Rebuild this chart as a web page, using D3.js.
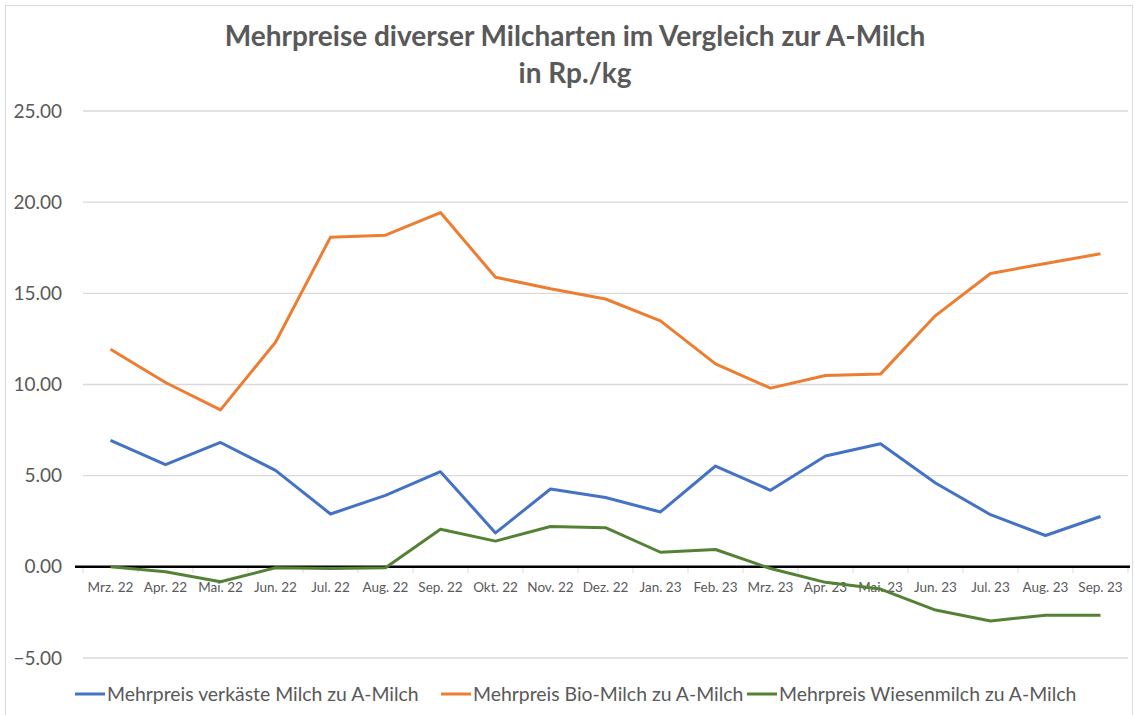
<!DOCTYPE html>
<html>
<head>
<meta charset="utf-8">
<script src="https://cdn.jsdelivr.net/npm/d3@7"></script>
<style>
  body { margin:0; background:#fff; }
  text { font-family: Lato, "Open Sans", sans-serif; }
</style>
</head>
<body>
<div id="plot"></div>
<script>
var months = ['Mrz. 22','Apr. 22','Mai. 22','Jun. 22','Jul. 22','Aug. 22','Sep. 22','Okt. 22','Nov. 22','Dez. 22',
	'Jan. 23','Feb. 23','Mrz. 23','Apr. 23','Mai. 23','Jun. 23','Jul. 23','Aug. 23','Sep. 23'];
var verkaeste = [6.93,5.60,6.82,5.29,2.90,3.92,5.22,1.86,4.27,3.80,3.01,5.53,4.20,6.08,6.75,4.60,2.86,1.72,2.76];
var bio = [11.93,10.11,8.61,12.32,18.08,18.19,19.43,15.88,15.25,14.69,13.49,11.13,9.80,10.49,10.57,13.78,16.09,16.64,17.17];
var wiesen = [0,-0.27,-0.82,-0.05,-0.09,-0.05,2.06,1.41,2.21,2.15,0.80,0.95,-0.09,-0.85,-1.22,-2.37,-2.97,-2.65,-2.65];
var yTicks = [-5,0,5,10,15,20,25];
var seriesNames = ['Mehrpreis verkäste Milch zu A-Milch','Mehrpreis Bio-Milch zu A-Milch','Mehrpreis Wiesenmilch zu A-Milch'];
var colors = ['#4472C4','#ED7D31','#548235'];

var W = 1135, H = 715;
var m = {t:111,r:7,b:57,l:83};

var svg = d3.select('#plot').append('svg')
	.attr('width',W)
	.attr('height',H);

// chart border
svg.append('rect')
	.attr('x',5.5).attr('y',5.5)
	.attr('width',W-8).attr('height',H)
	.attr('fill','none').attr('stroke','#d9d9d9');

// title
var title = svg.append('text')
	.attr('text-anchor','middle')
	.attr('fill','#595959')
	.style('font-size','28px')
	.style('font-weight','bold');
title.append('tspan').attr('x',575).attr('y',46).text('Mehrpreise diverser Milcharten im Vergleich zur A-Milch');
title.append('tspan').attr('x',575).attr('y',83).text('in Rp./kg');

var x = d3.scaleBand().domain(months).range([m.l,W-m.r]);
var y = d3.scaleLinear().domain([-5,25]).range([658,111]);

// gridlines + y labels
svg.append('g').selectAll('line').data(yTicks).join('line')
	.attr('x1',m.l).attr('x2',W-m.r)
	.attr('y1',function(d){return y(d);}).attr('y2',function(d){return y(d);})
	.attr('stroke','#d9d9d9').attr('stroke-width',1.3);

svg.append('g').selectAll('text').data(yTicks).join('text')
	.attr('x',62).attr('y',function(d){return y(d);})
	.attr('dy','0.35em')
	.attr('text-anchor','end')
	.attr('fill','#595959')
	.style('font-size','19px')
	.text(function(d){return d3.format('.2f')(d);});

// x axis at zero
var xAxis = svg.append('g').attr('transform','translate(0,'+y(0)+')');
xAxis.selectAll('line.tick').data(months.concat(['end'])).join('line')
	.attr('class','tick')
	.attr('x1',function(d,i){return m.l + i*x.bandwidth();})
	.attr('x2',function(d,i){return m.l + i*x.bandwidth();})
	.attr('y1',0).attr('y2',6)
	.attr('stroke','#d9d9d9');
xAxis.selectAll('text').data(months).join('text')
	.attr('x',function(d){return x(d)+x.bandwidth()/2;})
	.attr('y',25)
	.attr('text-anchor','middle')
	.attr('fill','#595959')
	.style('font-size','13.5px')
	.text(function(d){return d;});

// lines
var line = d3.line()
	.x(function(d,i){return x(months[i])+x.bandwidth()/2;})
	.y(function(d){return y(d);});

// zero line
xAxis.append('line')
	.attr('x1',m.l-8).attr('x2',W-m.r+2)
	.attr('y1',0).attr('y2',0)
	.attr('stroke','#000').attr('stroke-width',2.5);

[verkaeste,bio,wiesen].forEach(function(s,k){
	svg.append('path')
		.datum(s)
		.attr('d',line)
		.attr('fill','none')
		.attr('stroke',colors[k])
		.attr('stroke-width',3)
		.attr('stroke-linejoin','round');
});

// legend
var legX = [75,441,747];
var leg = svg.append('g').selectAll('g').data(seriesNames).join('g')
	.attr('transform',function(d,i){return 'translate('+legX[i]+',694)';});
leg.append('line')
	.attr('x1',0).attr('x2',30)
	.attr('stroke',function(d,i){return colors[i];})
	.attr('stroke-width',3);
leg.append('text')
	.attr('x',32).attr('dy','0.35em')
	.attr('fill','#595959')
	.style('font-size','19.4px')
	.text(function(d){return d;});
</script>
</body>
</html>
